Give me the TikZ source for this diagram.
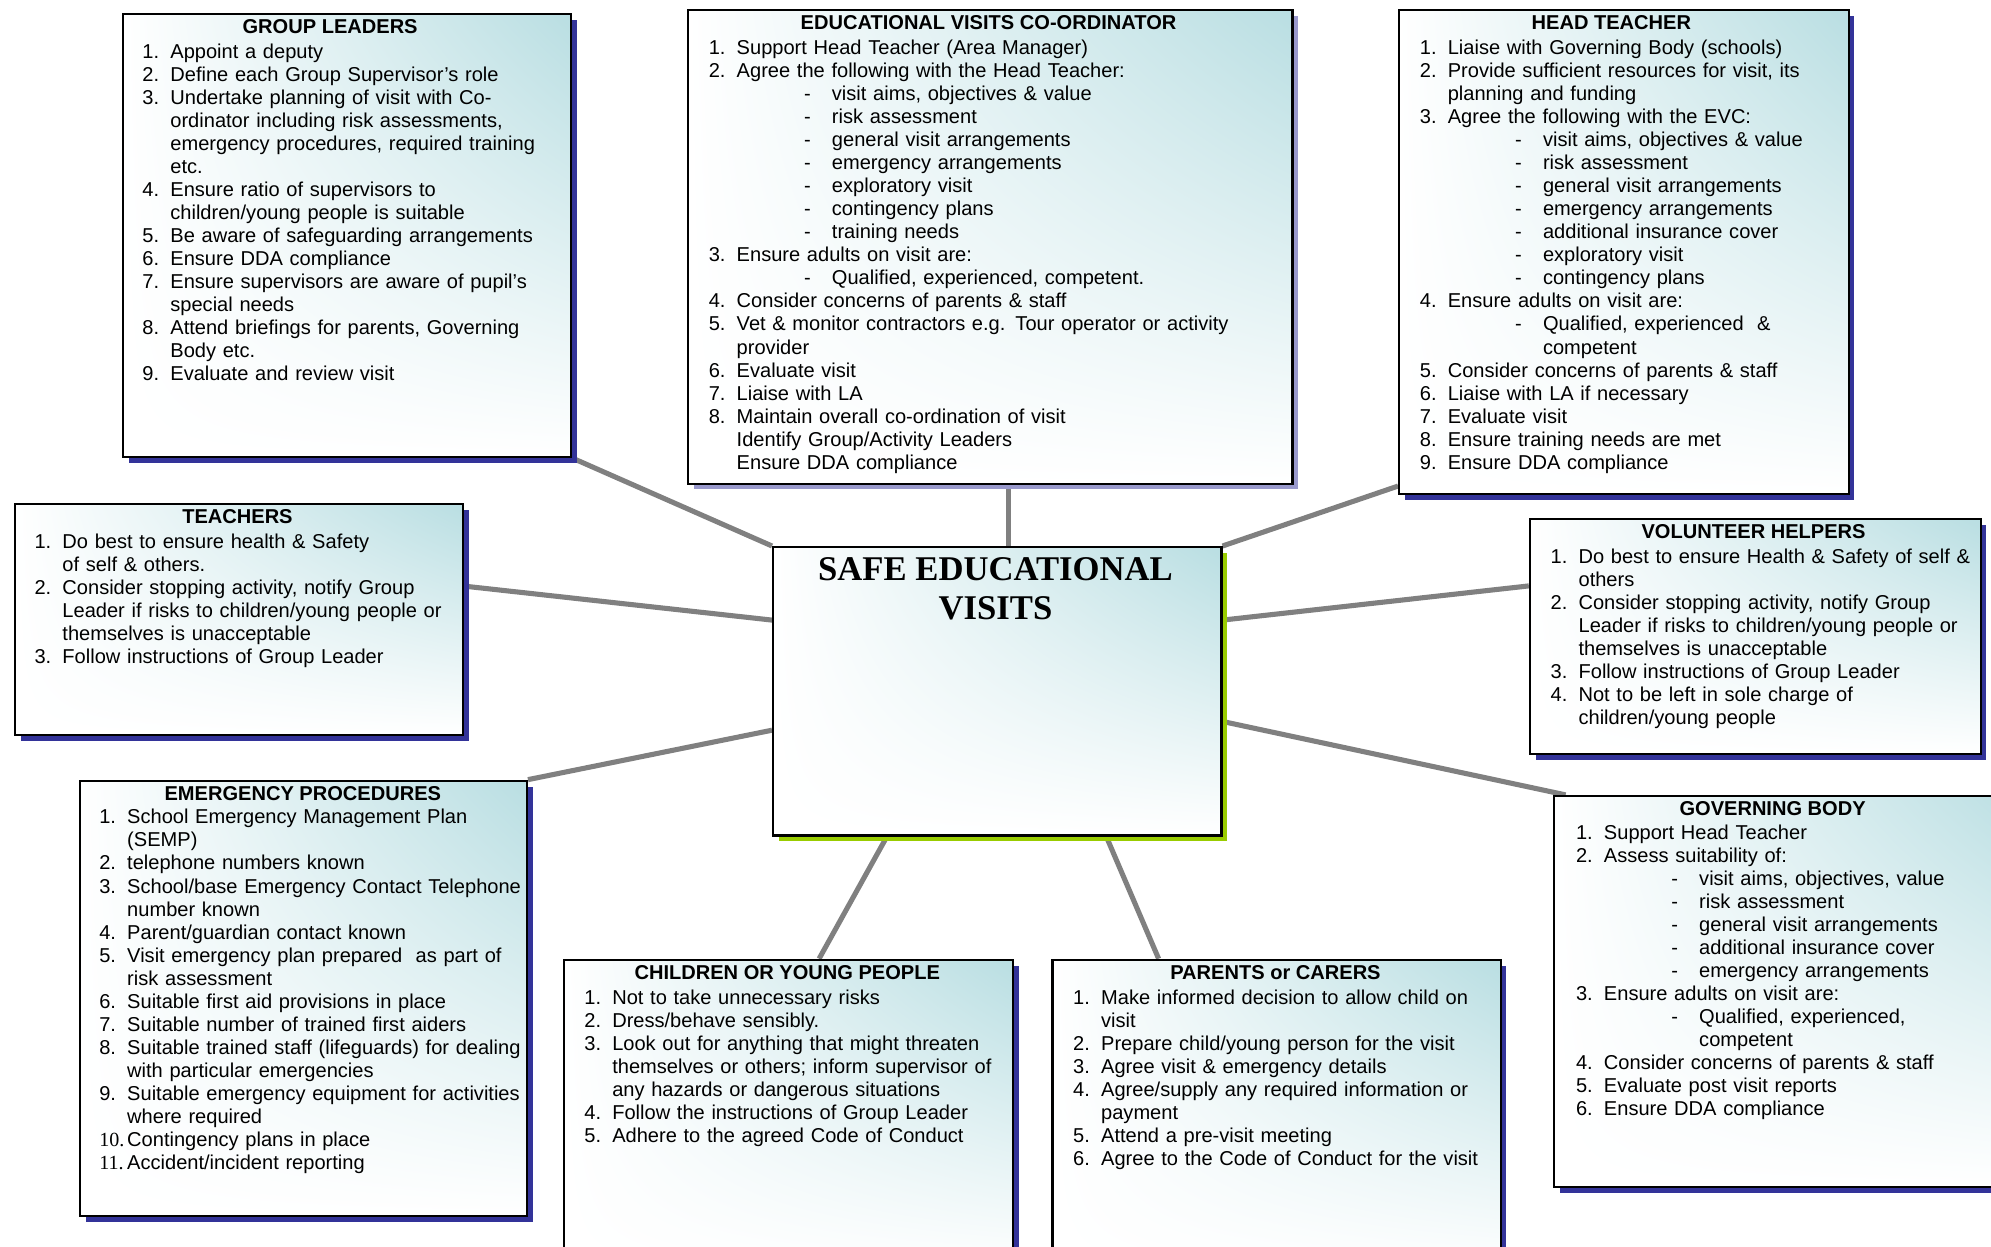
\documentclass[tikz,border=0pt]{standalone}
\usepackage{fontspec}
\setmainfont{Liberation Sans}
\newfontfamily\timesfont{Liberation Serif}
\usetikzlibrary{calc,shadows,shadings}
\definecolor{tealfill}{HTML}{B9DEE2}
\definecolor{sdark}{HTML}{333399}
\definecolor{slav}{HTML}{9999CC}
\definecolor{sgreen}{HTML}{99CC00}
\definecolor{conn}{HTML}{808080}
\pgfdeclarelayer{background}
\pgfsetlayers{background,main}
\newcommand{\nl}{\break}
\newcommand{\itm}[2]{\par\hangindent=22pt\hangafter=1\noindent\strut\makebox[22pt][l]{#1}#2\par}
\newcommand{\subitm}[1]{\par\hangindent=97pt\hangafter=1\noindent\strut\hspace*{75pt}\makebox[22pt][l]{-}#1\par}
\tikzset{
  bx/.style={draw=black, line width=1.8pt, anchor=north west, inner sep=0pt,
    lower left=white, upper left=white, lower right=white, upper right=tealfill,
    general shadow={fill=#1, shadow xshift=4.5pt, shadow yshift=-4.5pt}},
  ttl/.style={font=\bfseries\fontsize{15.8}{18.15}\selectfont, inner sep=0pt, anchor=center},
  listtxt/.style={anchor=north west, inner sep=0pt, text width=420pt, align=left,
    font=\fontsize{15.8}{18.15}\selectfont},
  cline/.style={draw=conn, line width=4pt}
}
\begin{document}
\begin{tikzpicture}[x=1pt,y=-1pt]
\useasboundingbox (0,0) rectangle (1568,981.3);

% ---------- boxes ----------
\node[bx=sdark, minimum width=353pt, minimum height=349pt] (gl) at (96,10) {};
\node[bx=slav,  minimum width=476pt, minimum height=373pt] (evc) at (541,7) {};
\node[bx=sdark, minimum width=354pt, minimum height=381pt] (ht) at (1101,7) {};
\node[bx=sdark, minimum width=353pt, minimum height=182pt] (tea) at (11,396) {};
\node[bx=sgreen,minimum width=353pt, minimum height=227pt] (ctr) at (608,430) {};
\node[bx=sdark, minimum width=355pt, minimum height=185pt] (vh) at (1204,408) {};
\node[bx=sdark, minimum width=352pt, minimum height=343pt] (emg) at (62,614) {};
\node[bx=sdark, minimum width=354pt, minimum height=245pt] (chi) at (443,755) {};
\node[bx=sdark, minimum width=353pt, minimum height=245pt] (par) at (828,755) {};
\node[bx=sdark, minimum width=380pt, minimum height=308pt] (gb) at (1223,626) {};

% ---------- connectors ----------
\coordinate (evcx) at (794,0);
\begin{pgfonlayer}{background}
\draw[cline] (gl.south east) -- (ctr.north west);
\draw[cline] (evc.south -| evcx) -- (ctr.north -| evcx);
\draw[cline] ($(ht.south west)+(0,7pt)$) -- (ctr.north east);
\draw[cline] ($(tea.north east)!0.357!(tea.south east)$) -- ($(ctr.north west)!0.255!(ctr.south west)$);
\draw[cline] ($(vh.north west)!0.286!(vh.south west)$) -- ($(ctr.north east)!0.255!(ctr.south east)$);
\draw[cline] (emg.north east) -- ($(ctr.north west)!0.634!(ctr.south west)$);
\draw[cline] ($(gb.north west)+(10pt,0)$) -- ($(ctr.north east)!0.604!(ctr.south east)$);
\draw[cline] ($(chi.north west)!0.568!(chi.north east)$) -- ($(ctr.south west)!0.255!(ctr.south east)$);
\draw[cline] ($(par.north west)!0.238!(par.north east)$) -- ($(ctr.south west)!0.742!(ctr.south east)$);
\end{pgfonlayer}

% ---------- centre title ----------
\node[inner sep=0pt, align=center, font=\timesfont\bfseries\fontsize{27.3}{31}\selectfont] (ctrt) at (784,463.5) {SAFE EDUCATIONAL\\VISITS};

% ---------- GROUP LEADERS ----------
\node[ttl] (glt) at (260,21) {GROUP LEADERS};
\node[listtxt] (gll) at (112,27.5) {%
\itm{1.}{Appoint a deputy}
\itm{2.}{Define each Group Supervisor’s role}
\itm{3.}{Undertake planning of visit with Co-\nl ordinator including risk assessments,\nl emergency procedures, required training\nl etc.}
\itm{4.}{Ensure ratio of supervisors to\nl children/young people is suitable}
\itm{5.}{Be aware of safeguarding arrangements}
\itm{6.}{Ensure DDA compliance}
\itm{7.}{Ensure supervisors are aware of pupil’s\nl special needs}
\itm{8.}{Attend briefings for parents, Governing\nl Body etc.}
\itm{9.}{Evaluate and review visit}};

% ---------- EVC ----------
\node[ttl] (evct) at (778.5,18) {EDUCATIONAL VISITS CO-ORDINATOR};
\node[listtxt] (evcl) at (558,24.5) {%
\itm{1.}{Support Head Teacher (Area Manager)}
\itm{2.}{Agree the following with the Head Teacher:}
\subitm{visit aims, objectives \& value}
\subitm{risk assessment}
\subitm{general visit arrangements}
\subitm{emergency arrangements}
\subitm{exploratory visit}
\subitm{contingency plans}
\subitm{training needs}
\itm{3.}{Ensure adults on visit are:}
\subitm{Qualified, experienced, competent.}
\itm{4.}{Consider concerns of parents \& staff}
\itm{5.}{Vet \& monitor contractors e.g. Tour operator or activity\nl provider}
\itm{6.}{Evaluate visit}
\itm{7.}{Liaise with LA}
\itm{8.}{Maintain overall co-ordination of visit\nl Identify Group/Activity Leaders\nl Ensure DDA compliance}};

% ---------- HEAD TEACHER ----------
\node[ttl] (htt) at (1269,18) {HEAD TEACHER};
\node[listtxt] (htl) at (1118,24.5) {%
\itm{1.}{Liaise with Governing Body (schools)}
\itm{2.}{Provide sufficient resources for visit, its\nl planning and funding}
\itm{3.}{Agree the following with the EVC:}
\subitm{visit aims, objectives \& value}
\subitm{risk assessment}
\subitm{general visit arrangements}
\subitm{emergency arrangements}
\subitm{additional insurance cover}
\subitm{exploratory visit}
\subitm{contingency plans}
\itm{4.}{Ensure adults on visit are:}
\subitm{Qualified, experienced\ \ \&\nl competent}
\itm{5.}{Consider concerns of parents \& staff}
\itm{6.}{Liaise with LA if necessary}
\itm{7.}{Evaluate visit}
\itm{8.}{Ensure training needs are met}
\itm{9.}{Ensure DDA compliance}};

% ---------- TEACHERS ----------
\node[ttl] (teat) at (187,407) {TEACHERS};
\node[listtxt] (teal) at (27,413.5) {%
\itm{1.}{Do best to ensure health \& Safety\nl of self \& others.}
\itm{2.}{Consider stopping activity, notify Group\nl Leader if risks to children/young people or\nl themselves is unacceptable}
\itm{3.}{Follow instructions of Group Leader}};

% ---------- VOLUNTEER HELPERS ----------
\node[ttl] (vht) at (1381,419) {VOLUNTEER HELPERS};
\node[listtxt] (vhl) at (1221,425.5) {%
\itm{1.}{Do best to ensure Health \& Safety of self \&\nl others}
\itm{2.}{Consider stopping activity, notify Group\nl Leader if risks to children/young people or\nl themselves is unacceptable}
\itm{3.}{Follow instructions of Group Leader}
\itm{4.}{Not to be left in sole charge of\nl children/young people}};

% ---------- EMERGENCY PROCEDURES ----------
\node[ttl] (emgt) at (238.5,625) {EMERGENCY PROCEDURES};
\node[listtxt] (emgl) at (78,630.5) {%
\itm{1.}{School Emergency Management Plan\nl (SEMP)}
\itm{2.}{telephone numbers known}
\itm{3.}{School/base Emergency Contact Telephone\nl number known}
\itm{4.}{Parent/guardian contact known}
\itm{5.}{Visit emergency plan prepared\ \ as part of\nl risk assessment}
\itm{6.}{Suitable first aid provisions in place}
\itm{7.}{Suitable number of trained first aiders}
\itm{8.}{Suitable trained staff (lifeguards) for dealing\nl with particular emergencies}
\itm{9.}{Suitable emergency equipment for activities\nl where required}
\itm{\timesfont 10.}{Contingency plans in place}
\itm{\timesfont 11.}{Accident/incident reporting}};

% ---------- CHILDREN ----------
\node[ttl] (chit) at (620,766) {CHILDREN OR YOUNG PEOPLE};
\node[listtxt] (chil) at (460,772.5) {%
\itm{1.}{Not to take unnecessary risks}
\itm{2.}{Dress/behave sensibly.}
\itm{3.}{Look out for anything that might threaten\nl themselves or others; inform supervisor of\nl any hazards or dangerous situations}
\itm{4.}{Follow the instructions of Group Leader}
\itm{5.}{Adhere to the agreed Code of Conduct}};

% ---------- PARENTS ----------
\node[ttl] (part) at (1004.5,766) {PARENTS or CARERS};
\node[listtxt] (parl) at (845,772.5) {%
\itm{1.}{Make informed decision to allow child on\nl visit}
\itm{2.}{Prepare child/young person for the visit}
\itm{3.}{Agree visit \& emergency details}
\itm{4.}{Agree/supply any required information or\nl payment}
\itm{5.}{Attend a pre-visit meeting}
\itm{6.}{Agree to the Code of Conduct for the visit}};

% ---------- GOVERNING BODY ----------
\node[ttl] (gbt) at (1396,637) {GOVERNING BODY};
\node[listtxt] (gbl) at (1241,642.5) {%
\itm{1.}{Support Head Teacher}
\itm{2.}{Assess suitability of:}
\subitm{visit aims, objectives, value}
\subitm{risk assessment}
\subitm{general visit arrangements}
\subitm{additional insurance cover}
\subitm{emergency arrangements}
\itm{3.}{Ensure adults on visit are:}
\subitm{Qualified, experienced,\nl competent}
\itm{4.}{Consider concerns of parents \& staff}
\itm{5.}{Evaluate post visit reports}
\itm{6.}{Ensure DDA compliance}};
\end{tikzpicture}
\end{document}
